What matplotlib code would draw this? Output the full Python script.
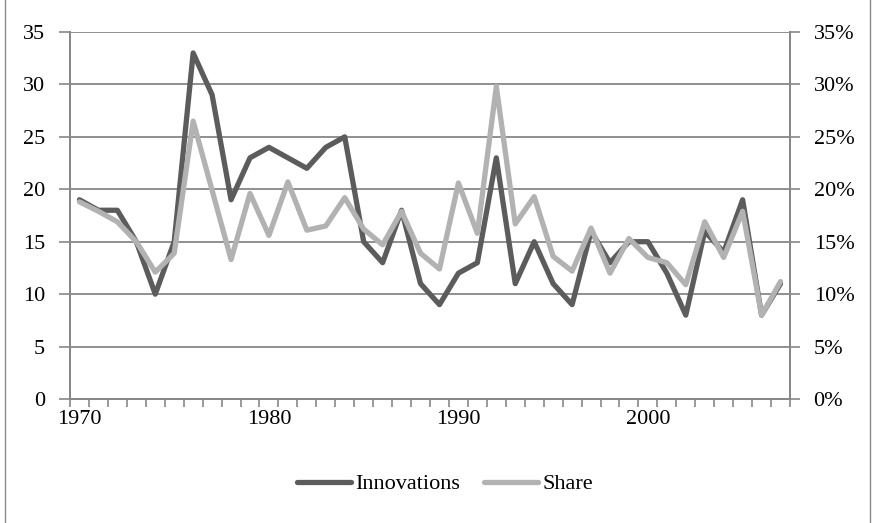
import matplotlib.pyplot as plt
from matplotlib.lines import Line2D
from matplotlib.patches import Rectangle
from matplotlib.ticker import FixedLocator, PercentFormatter

plt.rcParams["font.family"] = ["Liberation Serif", "DejaVu Serif"]

years = list(range(1970, 2008))
innovations = [19, 18, 18, 15, 10, 15, 33, 29, 19, 23,
               24, 23, 22, 24, 25, 15, 13, 18, 11, 9,
               12, 13, 23, 11, 15, 11, 9, 16, 13, 15,
               15, 12, 8, 16, 14, 19, 8, 11]
share = [18.8, 17.9, 16.9, 15.0, 12.1, 13.9, 26.5, 19.9, 13.3, 19.6,
         15.6, 20.7, 16.1, 16.5, 19.2, 16.2, 14.7, 17.9, 13.9, 12.4,
         20.6, 15.8, 29.8, 16.7, 19.3, 13.6, 12.2, 16.3, 12.0, 15.3,
         13.5, 13.0, 10.9, 16.9, 13.5, 17.9, 8.0, 11.2]
year_labels = ["1970", "1980", "1990", "2000"]

DARK = "#5c5c5c"
LIGHT = "#b2b2b2"
GRID = "#878787"
FS = 16

fig = plt.figure(figsize=(8.74, 5.23), dpi=100)
fig.patch.set_facecolor("white")
# thin grey frame around the whole chart area
fig.patches.append(Rectangle((4.5 / 874, -0.01), 865.5 / 874, 1.02, transform=fig.transFigure,
                             fill=False, edgecolor="#8a8a8a", linewidth=1.0))

ax = fig.add_axes([70 / 874, 1 - 399 / 523, 720 / 874, 367 / 523])
ax2 = ax.twinx()

x = list(range(len(years)))
ax.plot(x, innovations, color=DARK, lw=3.8, solid_joinstyle="round", solid_capstyle="round", zorder=3)
ax2.plot(x, share, color=LIGHT, lw=3.8, solid_joinstyle="round", solid_capstyle="round", zorder=3)

ax.set_xlim(-0.5, len(years) - 0.5)
ax.set_ylim(0, 35)
ax2.set_ylim(0, 35)
ax.set_yticks(range(0, 36, 5))
ax2.set_yticks(range(0, 36, 5))
ax2.yaxis.set_major_formatter(PercentFormatter(decimals=0))

ax.set_xticks([years.index(int(y)) for y in year_labels])
ax.set_xticklabels(year_labels)
ax.xaxis.set_minor_locator(FixedLocator([i - 0.5 for i in range(len(years) + 1)]))
ax.tick_params(axis="x", which="major", length=0, pad=8, labelsize=FS)
ax.tick_params(axis="x", which="minor", length=6, width=1.2, color=GRID, direction="out")
ax.tick_params(axis="y", length=8, width=1.2, color=GRID, pad=10, labelsize=FS)
ax2.tick_params(axis="y", length=7, width=1.2, color=GRID, pad=10, labelsize=FS)

ax.yaxis.grid(True, color=GRID, lw=1.3)
ax.set_axisbelow(True)
for a in (ax, ax2):
    a.spines["top"].set_visible(False)
    for s in ("left", "right", "bottom"):
        a.spines[s].set_color(GRID)
        a.spines[s].set_linewidth(1.3)

handles = [Line2D([], [], color=DARK, lw=3.8, solid_capstyle="round"),
           Line2D([], [], color=LIGHT, lw=3.8, solid_capstyle="round")]
fig.legend(handles, ["Innovations", "Share"], loc="center", bbox_to_anchor=(445 / 874, 1 - 484 / 523),
           ncol=2, frameon=False, fontsize=FS, handlelength=2.4, handletextpad=0.2, columnspacing=1.1)

fig.savefig("out.png", dpi=100, facecolor="white")
